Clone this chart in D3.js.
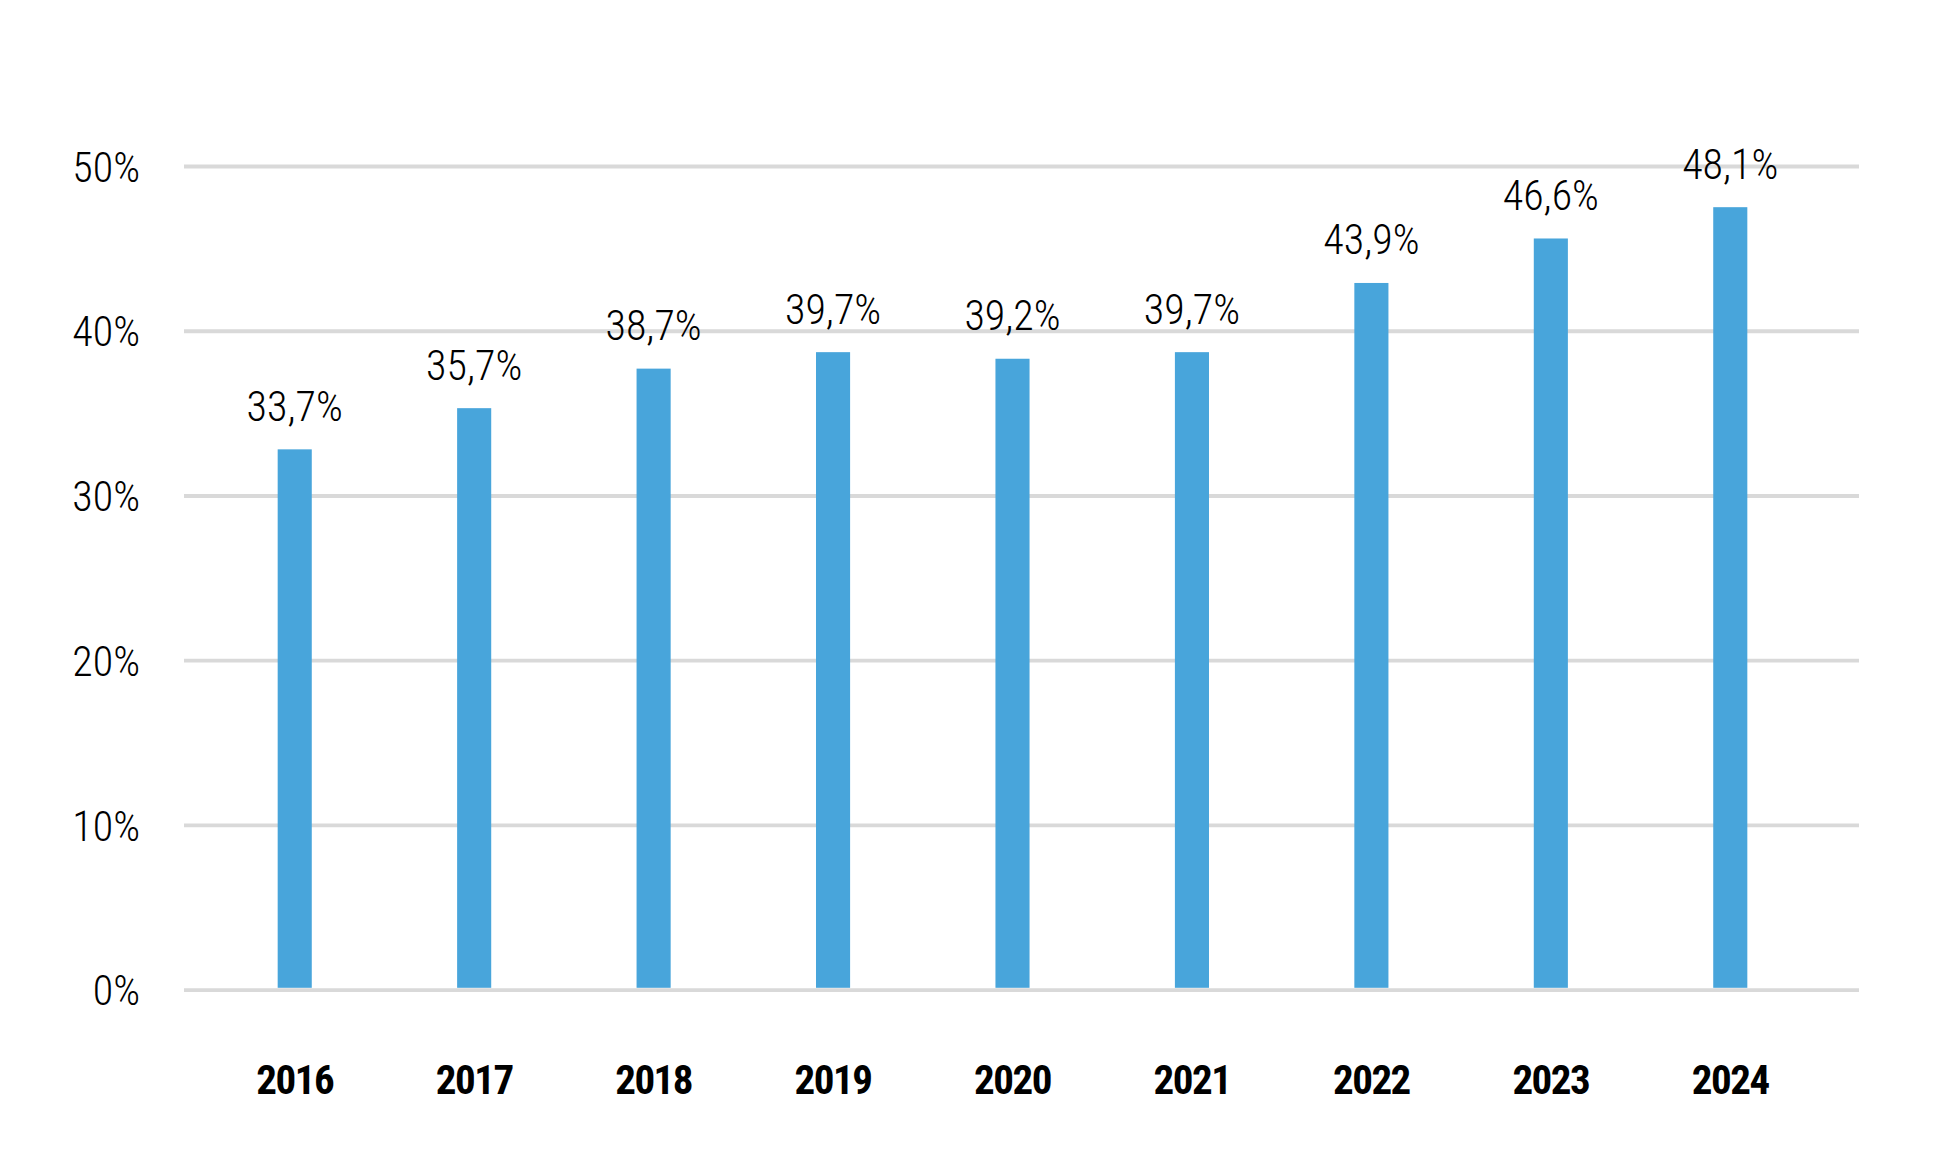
<!DOCTYPE html>
<html>
<head>
<meta charset="utf-8">
<script src="https://cdn.jsdelivr.net/npm/d3@7"></script>
<style>
  body { margin: 0; background: #fff; }
  svg { display: block; }
  text { font-family: "Roboto Condensed", "Liberation Sans Narrow", "DejaVu Sans Condensed", sans-serif; fill: #000; }
</style>
</head>
<body>
<svg id="chart" width="1943" height="1152"></svg>
<script>
// data
const years = ["2016", "2017", "2018", "2019", "2020", "2021", "2022", "2023", "2024"];
// bar heights as drawn (they sit a little under their printed labels)
const shares = [32.8, 35.3, 37.7, 38.7, 38.3, 38.7, 42.9, 45.6, 47.5];
const shareLabels = ["33,7%", "35,7%", "38,7%", "39,7%", "39,2%", "39,7%", "43,9%", "46,6%", "48,1%"];
const yTicks = [0, 10, 20, 30, 40, 50];
const yTickLabels = ["0%", "10%", "20%", "30%", "40%", "50%"];

const svg = d3.select("#chart");

const gridLeft = 184, gridRight = 1859;

const x = d3.scaleBand()
    .domain(years)
    .range([205, 1820])
    .paddingInner(0.81)
    .paddingOuter(0.405);

const y = d3.scaleLinear()
    .domain([0, 50])
    .range([989.7, 166]);

// y axis with gridlines
const yAxis = svg.append("g")
    .attr("transform", `translate(${gridLeft},0)`)
    .call(d3.axisLeft(y)
        .tickValues(yTicks)
        .tickSize(-(gridRight - gridLeft))
        .tickPadding(44)
        .tickFormat((d, i) => yTickLabels[i]));

yAxis.select(".domain").remove();
yAxis.selectAll(".tick line")
    .attr("stroke", "#d9d9d9")
    .attr("stroke-width", 3.8);
yAxis.selectAll(".tick text")
    .attr("font-size", 42)
    .attr("font-weight", 300)
    .attr("dy", "0.36em");

// bars
svg.append("g").selectAll("rect")
    .data(shares)
    .enter().append("rect")
    .attr("x", (d, i) => x(years[i]))
    .attr("y", d => y(d))
    .attr("width", x.bandwidth())
    .attr("height", d => y(0) - 1.9 - y(d))
    .attr("fill", "#48a5db");

// value labels
svg.append("g").selectAll("text")
    .data(shares)
    .enter().append("text")
    .attr("x", (d, i) => x(years[i]) + x.bandwidth() / 2)
    .attr("y", d => y(d) - 28.5)
    .attr("text-anchor", "middle")
    .attr("font-size", 42)
    .attr("font-weight", 300)
    .text((d, i) => shareLabels[i]);

// x axis
const xAxis = svg.append("g")
    .attr("transform", `translate(0,${y(0)})`)
    .call(d3.axisBottom(x).tickSize(0));

xAxis.select(".domain").remove();
xAxis.selectAll(".tick text")
    .attr("y", 104.3)
    .attr("dy", null)
    .attr("font-size", 41)
    .attr("font-weight", "bold")
    .attr("letter-spacing", "-1.5px");
</script>
</body>
</html>
